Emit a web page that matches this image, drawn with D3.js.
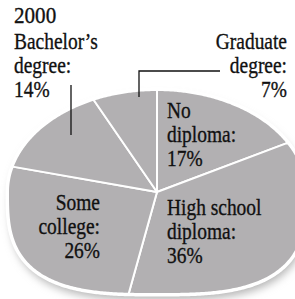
<!DOCTYPE html>
<html>
<head>
<meta charset="utf-8">
<script src="https://cdn.jsdelivr.net/npm/d3@7"></script>
<style>
  body { margin: 0; background: #fff; }
  text { font-family: "Liberation Serif", "Times New Roman", serif; font-size: 24px; fill: #111; stroke: #111; stroke-width: 0.35px; }
</style>
</head>
<body>
<script>
// data
const yearLabel = "2000";
const categories = ["No diploma", "High school diploma", "Some college", "Bachelor's degree", "Graduate degree"];
const shares = [17, 36, 26, 14, 7];
const labelLines = [["No", "diploma:"], ["High school", "diploma:"], ["Some", "college:"], ["Bachelor’s", "degree:"], ["Graduate", "degree:"]];

// layout
const W = 295, H = 299;
const cx = 157, cy = 192, rx = 149, ry = 102;
const lineH = 24.2;
const squeeze = 0.81;
const labelPos = [
  {x: 167, y: 118, anchor: "start"},
  {x: 167, y: 215, anchor: "start"},
  {x: 100, y: 210, anchor: "end"},
  {x: 14, y: 49, anchor: "start"},
  {x: 287, y: 49, anchor: "end"}
];
const leaders = [
  [[71, 85], [71, 135]],
  [[139, 97], [139, 71], [220, 71]]
];

const svg = d3.select("body").append("svg")
    .attr("width", W)
    .attr("height", H);

let defs = svg.append("defs");
defs.append("filter").attr("id", "blur")
    .attr("x", "-20%").attr("y", "-20%").attr("width", "140%").attr("height", "140%")
  .append("feGaussianBlur").attr("stdDeviation", 4);

let xScale = d3.scaleLinear().domain([-1, 1]).range([cx - rx, cx + rx]);
let yScale = d3.scaleLinear().domain([-1, 1]).range([cy + ry, cy - ry]);

// the front half of the disc is a bit squarer than an ellipse
function edgePoint(a) {
  let s = Math.sin(a), c = Math.cos(a);
  let k = 1;
  if (c < 0) k = Math.pow(Math.pow(Math.abs(s), 3) + Math.pow(Math.abs(c), 3), -1 / 3);
  return [xScale(s * k), yScale(c * k)];
}

function outline(a0, a1, withCenter) {
  let pts = withCenter ? [[xScale(0), yScale(0)]] : [];
  let n = Math.ceil((a1 - a0) / 0.01);
  for (let i = 0; i <= n; i++) pts.push(edgePoint(a0 + (a1 - a0) * i / n));
  return d3.line()(pts) + "Z";
}

let pie = d3.pie().sort(null).value(d => d);
let arcs = pie(shares);

// shadow
svg.append("path")
    .attr("d", outline(0, 2 * Math.PI, false))
    .attr("transform", "translate(2,6)")
    .attr("fill", "#b5b5b5")
    .attr("filter", "url(#blur)");

svg.append("path")
    .attr("d", outline(0, 2 * Math.PI, false))
    .attr("fill", "#fff")
    .attr("stroke", "#fff")
    .attr("stroke-width", 5);

svg.append("g").selectAll("path")
  .data(arcs)
  .enter().append("path")
    .attr("d", d => outline(d.startAngle, d.endAngle, true))
    .attr("fill", "#b2b0b2")
    .attr("stroke", "#fff")
    .attr("stroke-width", 2)
    .attr("stroke-linejoin", "round");

// leader lines
svg.append("g").selectAll("path")
  .data(leaders)
  .enter().append("path")
    .attr("d", d => d3.line()(d))
    .attr("fill", "none")
    .attr("stroke", "#111")
    .attr("stroke-width", 1.3);

// labels
let labels = svg.append("g").selectAll("text")
  .data(categories)
  .enter().append("text")
    .attr("text-anchor", (d, i) => labelPos[i].anchor)
    .attr("transform", (d, i) => "translate(" + labelPos[i].x + "," + labelPos[i].y + ") scale(" + squeeze + ",1)");

labels.each(function(d, i) {
  let lines = labelLines[i].concat([shares[i] + "%"]);
  d3.select(this).selectAll("tspan")
    .data(lines)
    .enter().append("tspan")
      .attr("x", 0)
      .attr("y", (l, j) => j * lineH)
      .text(l => l);
});

svg.append("text")
    .attr("transform", "translate(14," + (49 - lineH - 2) + ") scale(0.88,1)")
    .text(yearLabel);
</script>
</body>
</html>
